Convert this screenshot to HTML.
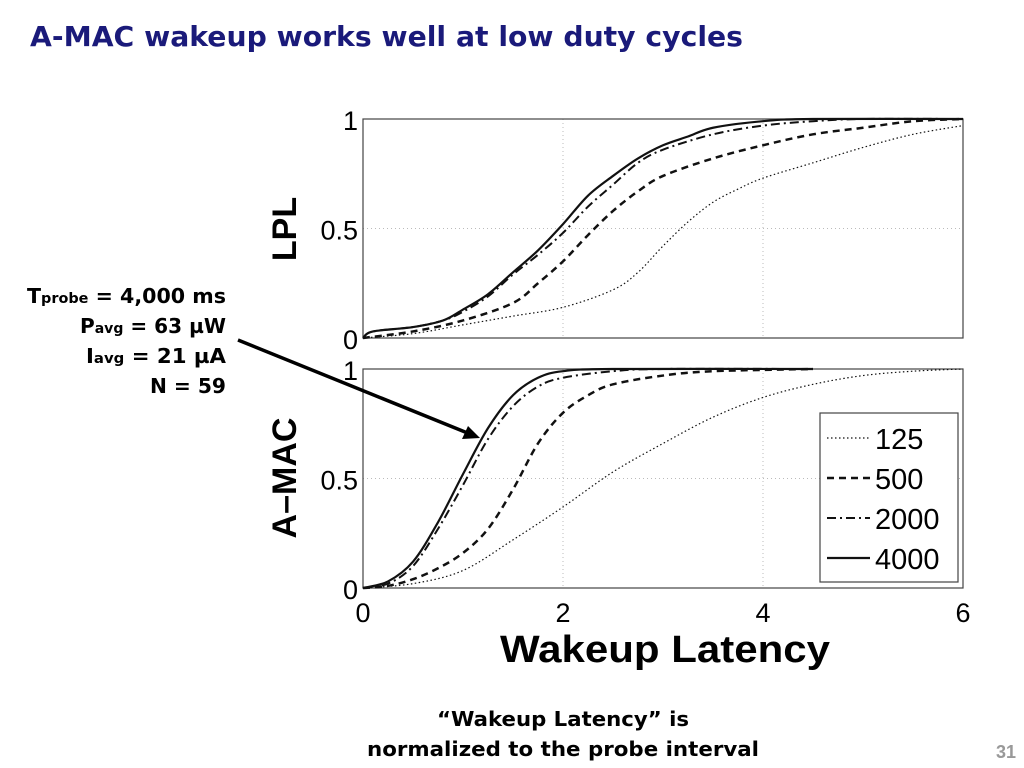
<!DOCTYPE html>
<html><head><meta charset="utf-8"><style>
html,body{margin:0;padding:0;background:#fff;width:1024px;height:768px;overflow:hidden;font-family:"Liberation Sans",sans-serif;}
</style></head><body>
<svg width="1024" height="768" xmlns="http://www.w3.org/2000/svg">
<text x="30" y="46" font-size="28" font-weight="bold" fill="#1a1a7a" font-family="DejaVu Sans, sans-serif" textLength="713" lengthAdjust="spacingAndGlyphs">A-MAC wakeup works well at low duty cycles</text>
<g font-size="20" font-weight="bold" fill="#000" text-anchor="end" font-family="DejaVu Sans, sans-serif">
<text x="226" y="303" textLength="199" lengthAdjust="spacingAndGlyphs">T<tspan font-size="14">probe</tspan> = 4,000 ms</text>
<text x="226" y="333" textLength="146" lengthAdjust="spacingAndGlyphs">P<tspan font-size="14">avg</tspan> = 63 µW</text>
<text x="226" y="363" textLength="140" lengthAdjust="spacingAndGlyphs">I<tspan font-size="14">avg</tspan> = 21 µA</text>
<text x="226" y="393" textLength="76" lengthAdjust="spacingAndGlyphs">N = 59</text>
</g>
<g id="plots"></g>
<line x1="238" y1="340" x2="470" y2="434" stroke="#000" stroke-width="3.5"/>
<polygon points="480,438 462,439 468,426" fill="#000"/>
<g font-size="20" font-weight="bold" text-anchor="middle" font-family="DejaVu Sans, sans-serif">
<text x="563" y="726" textLength="252" lengthAdjust="spacingAndGlyphs">“Wakeup Latency” is</text>
<text x="563" y="756" textLength="392" lengthAdjust="spacingAndGlyphs">normalized to the probe interval</text>
</g>
<text x="996" y="758" font-size="18" fill="#999" font-weight="bold">31</text>
</svg>
<script>
const xTicks=[0,2,4,6];
const yTicks=[0,0.5,1];
const yTickLabels=['0','0.5','1'];
const seriesNames=['125','500','2000','4000'];
const lpl125=[[0,0],[0.5,0.02],[1,0.06],[1.5,0.1],[2,0.14],[2.5,0.22],[2.75,0.3],[3,0.42],[3.25,0.53],[3.5,0.62],[3.75,0.68],[4,0.73],[4.5,0.8],[5,0.87],[5.5,0.93],[6,0.97]];
const lpl500=[[0,0],[0.5,0.03],[1,0.08],[1.5,0.16],[1.75,0.25],[2,0.35],[2.25,0.47],[2.5,0.58],[2.75,0.67],[3,0.74],[3.5,0.82],[4,0.88],[4.5,0.93],[5,0.96],[5.5,0.99],[6,1]];
const lpl2000=[[0,0],[0.1,0.03],[0.5,0.05],[0.8,0.08],[1,0.12],[1.25,0.19],[1.5,0.29],[1.75,0.38],[2,0.48],[2.25,0.6],[2.5,0.7],[2.75,0.8],[3,0.86],[3.5,0.93],[4,0.97],[4.5,0.99],[5,1],[6,1]];
const lpl4000=[[0,0],[0.1,0.03],[0.5,0.05],[0.8,0.08],[1,0.13],[1.25,0.2],[1.5,0.3],[1.75,0.4],[2,0.52],[2.25,0.65],[2.5,0.74],[2.75,0.82],[3,0.88],[3.25,0.92],[3.5,0.96],[4,0.99],[4.5,1],[6,1]];
const amac125=[[0,0],[0.5,0.02],[1,0.08],[1.5,0.22],[2,0.37],[2.5,0.53],[3,0.66],[3.5,0.78],[4,0.87],[4.5,0.93],[5,0.97],[5.5,0.99],[6,1]];
const amac500=[[0,0],[0.25,0.01],[0.5,0.04],[0.75,0.09],[1,0.16],[1.25,0.27],[1.5,0.45],[1.75,0.66],[2,0.8],[2.25,0.88],[2.5,0.93],[3,0.97],[3.5,0.99],[4.5,1]];
const amac2000=[[0,0],[0.25,0.02],[0.5,0.1],[0.75,0.27],[1,0.47],[1.25,0.68],[1.5,0.83],[1.75,0.92],[2,0.96],[2.5,0.99],[3,1],[4.5,1]];
const amac4000=[[0,0],[0.25,0.03],[0.5,0.12],[0.75,0.3],[1,0.52],[1.25,0.73],[1.5,0.88],[1.75,0.96],[2,0.99],[2.5,1],[4.5,1]];
const dashes=['1.5,2.5','7,5','9,4,2,4',''];
const widths=[1.2,2.5,2,2.2];
const NS='http://www.w3.org/2000/svg';
const root=document.getElementById('plots');
const X0=363,X1=963,XMAX=6;
const sx=v=>X0+(X1-X0)*v/XMAX;
function mk(tag,attrs,parent){const e=document.createElementNS(NS,tag);for(const k in attrs)e.setAttribute(k,attrs[k]);parent.appendChild(e);return e;}
function smooth(pts){
  let d='M'+pts[0][0]+','+pts[0][1];
  for(let i=0;i<pts.length-1;i++){
    const p0=pts[i-1]||pts[i],p1=pts[i],p2=pts[i+1],p3=pts[i+2]||p2;
    const c1=[p1[0]+(p2[0]-p0[0])/6,p1[1]+(p2[1]-p0[1])/6];
    const c2=[p2[0]-(p3[0]-p1[0])/6,p2[1]-(p3[1]-p1[1])/6];
    d+=' C'+c1.join(',')+' '+c2.join(',')+' '+p2.join(',');
  }
  return d;
}
function panel(name,top,bottom,series,label,labelY,showX){
  const g=mk('g',{},root);
  
  
  const sy=v=>bottom-(bottom-top)*v;
  xTicks.forEach(t=>{if(t>0&&t<6){const l=mk('line',{x1:sx(t),x2:sx(t),y1:top,y2:bottom,stroke:'#bbb','stroke-dasharray':'1,3'},g);
    }});
  yTicks.forEach(t=>{if(t>0&&t<1){const l=mk('line',{x1:X0,x2:X1,y1:sy(t),y2:sy(t),stroke:'#bbb','stroke-dasharray':'1,3'},g);
    }});
  const box=mk('rect',{x:X0,y:top,width:X1-X0,height:bottom-top,fill:'none',stroke:'#444','stroke-width':1.2},g);
  
  yTicks.forEach((t,i)=>{const tx=mk('text',{x:358,y:sy(t)+11,'font-size':27,'text-anchor':'end'},g);tx.textContent=yTickLabels[i];
    });
  if(showX){xTicks.forEach(t=>{const tx=mk('text',{x:sx(t),y:bottom+34,'font-size':27,'text-anchor':'middle'},g);tx.textContent=String(t);
    });}
  const yl=mk('text',{x:0,y:0,'font-size':34,'font-weight':'bold','text-anchor':'middle',transform:`translate(296,${labelY}) rotate(-90)`},g);
  yl.textContent=label;
  series.forEach((s,i)=>{const p=mk('path',{d:smooth(s.map(d=>[sx(d[0]),sy(d[1])])),fill:'none',stroke:'#111','stroke-width':widths[i],'stroke-dasharray':dashes[i],'stroke-linejoin':'round'},g);
    });
}
panel('lpl',119,338,[lpl125,lpl500,lpl2000,lpl4000],'LPL',229,false);
panel('amac',369,588,[amac125,amac500,amac2000,amac4000],'A–MAC',478,true);
const xt=mk('text',{x:665,y:662,'font-size':38,'font-weight':'bold','text-anchor':'middle',textLength:330,lengthAdjust:'spacingAndGlyphs'},root);
xt.textContent='Wakeup Latency';


const lg=mk('g',{},root);


mk('rect',{x:820,y:413,width:138,height:169,fill:'#fff',stroke:'#444','stroke-width':1.2},lg);
seriesNames.forEach((n,i)=>{const y=438+i*40;
  const l=mk('line',{x1:827,x2:870,y1:y,y2:y,stroke:'#111','stroke-width':widths[i],'stroke-dasharray':dashes[i]},lg);
  
  const t=mk('text',{x:875,y:y+11,'font-size':29},lg);t.textContent=n;
  });
</script>
</body></html>
